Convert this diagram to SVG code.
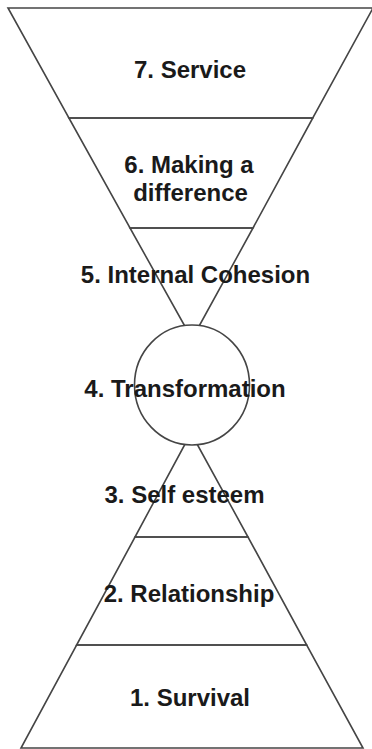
<svg xmlns="http://www.w3.org/2000/svg" width="372" height="749" viewBox="0 0 372 749">
  <style>
    .edge { fill: none; stroke: #454545; stroke-width: 1.6; stroke-linejoin: miter; }
    .disc { fill: #ffffff; stroke: #454545; stroke-width: 1.6; }
    .lbl { font-family: "Liberation Sans", Arial, sans-serif; font-weight: bold; font-size: 24px; fill: #1a1a1a; text-anchor: middle; }
  </style>
  <rect x="0" y="0" width="372" height="749" fill="#ffffff"/>
  <g id="level7">
    <polygon class="edge" points="8,8 373,8 312.8,118 68.9,118"/>
    <text class="lbl" x="190" y="78">7. Service</text>
  </g>
  <g id="level6">
    <polygon class="edge" points="68.9,118 312.8,118 253,228 130,228"/>
    <text class="lbl" x="189" y="173">6. Making a</text>
    <text class="lbl" x="190.5" y="201">difference</text>
  </g>
  <g id="level5">
    <polygon class="edge" points="130,228 253,228 192,339"/>
    <text class="lbl" x="195.5" y="283">5. Internal Cohesion</text>
  </g>
  <g id="level3">
    <polygon class="edge" points="191,433 248,537 135,537"/>
    <text class="lbl" x="184.5" y="503">3. Self esteem</text>
  </g>
  <g id="level2">
    <polygon class="edge" points="135,537 248,537 306.7,645 76.6,645"/>
    <text class="lbl" x="189" y="602">2. Relationship</text>
  </g>
  <g id="level1">
    <polygon class="edge" points="76.6,645 306.7,645 363,748 21,748"/>
    <text class="lbl" x="190" y="706">1. Survival</text>
  </g>
  <g id="level4">
    <ellipse class="disc" cx="192" cy="385" rx="57.5" ry="60"/>
    <text class="lbl" x="185" y="397">4. Transformation</text>
  </g>
  <g id="connectors"/>
</svg>
